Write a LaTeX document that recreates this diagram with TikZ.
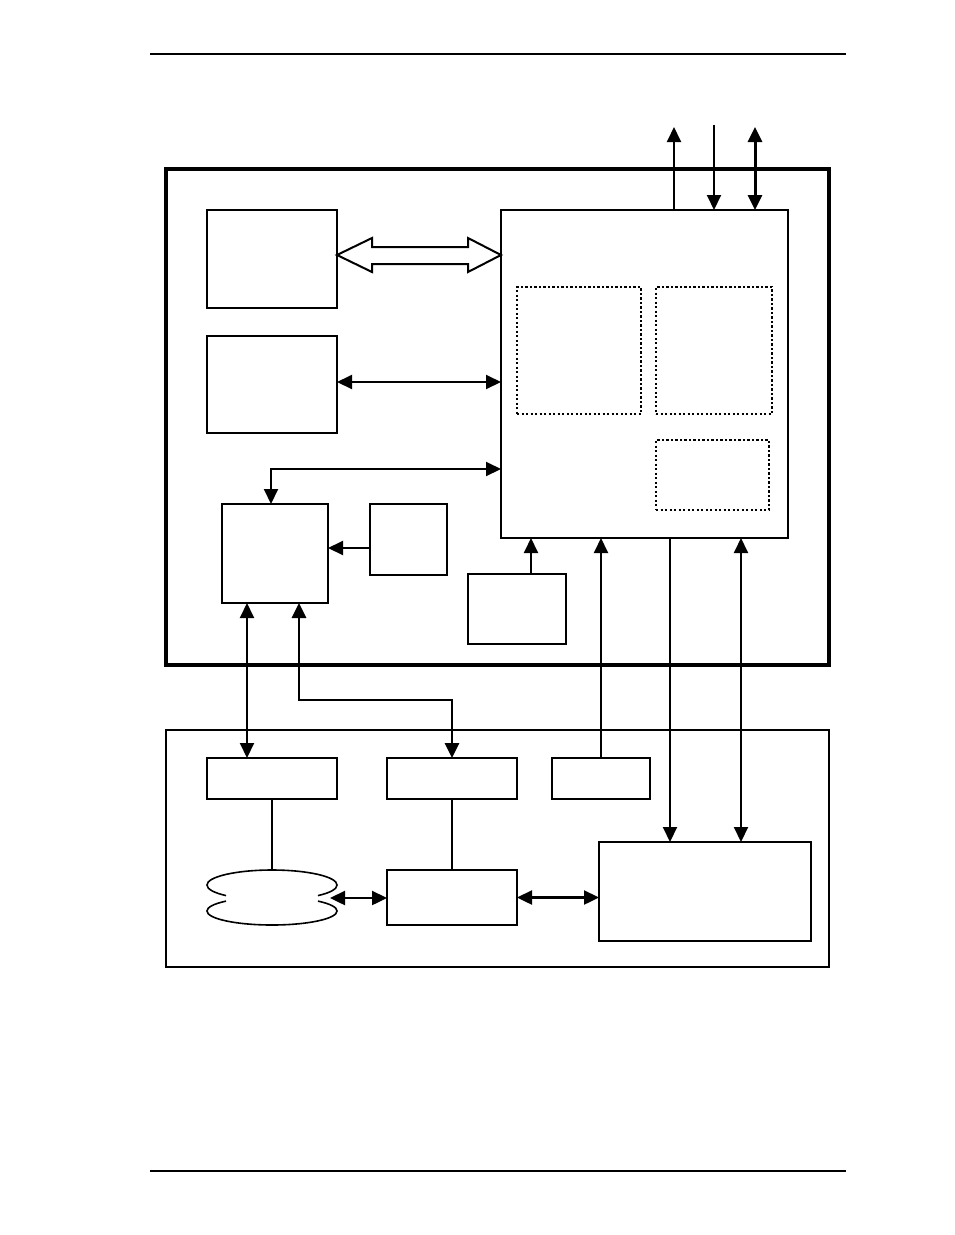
\documentclass[tikz,border=0pt]{standalone}
\usetikzlibrary{arrows.meta,calc}
\begin{document}
\begin{tikzpicture}[x=1pt,y=-1pt,
  box/.style={draw,line width=2pt,inner sep=0pt,outer sep=0pt},
  frame/.style={draw,line width=3.2pt,inner sep=0pt,outer sep=0pt},
  dotbox/.style={draw,line width=2.3pt,dash pattern=on 2.3pt off 2.2pt,inner sep=0pt,outer sep=0pt},
  conn/.style={line width=2pt},
  tip/.style={-{Triangle[length=15pt,width=14pt]}},
  tips/.style={{Triangle[length=15pt,width=14pt]}-{Triangle[length=15pt,width=14pt]}},
]
\useasboundingbox (0,0) rectangle (954,1235);

% page rules
\coordinate (hl) at (150,54);  \coordinate (hr) at (846,54);
\coordinate (fl) at (150,1171); \coordinate (fr) at (846,1171);
\draw[line width=1.6pt] (hl) -- (hr);
\draw[line width=1.6pt] (fl) -- (fr);

% frames
\node[frame,minimum width=663pt,minimum height=496pt] (top) at (497.5,417) {};
\node[box,minimum width=663pt,minimum height=237pt] (bot) at (497.5,848.5) {};

% upper boxes
\node[box,minimum width=130pt,minimum height=98pt] (A) at (272,259) {};
\node[box,minimum width=130pt,minimum height=97pt] (B) at (272,384.5) {};
\node[box,minimum width=287pt,minimum height=328pt] (C) at (644.5,374) {};
\node[dotbox,minimum width=124pt,minimum height=127pt] (D1) at (579,350.5) {};
\node[dotbox,minimum width=116pt,minimum height=127pt] (D2) at (714,350.5) {};
\node[dotbox,minimum width=113pt,minimum height=70pt] (D3) at (712.5,475) {};
\node[box,minimum width=106pt,minimum height=99pt] (E) at (275,553.5) {};
\node[box,minimum width=77pt,minimum height=71pt] (F) at (408.5,539.5) {};
\node[box,minimum width=98pt,minimum height=70pt] (G) at (517,609) {};

% lower boxes
\node[box,minimum width=130pt,minimum height=41pt] (H) at (272,778.5) {};
\node[box,minimum width=130pt,minimum height=41pt] (I) at (452,778.5) {};
\node[box,minimum width=98pt,minimum height=41pt] (J) at (601,778.5) {};
\node[box,minimum width=212pt,minimum height=99pt] (K) at (705,891.5) {};
\node[box,minimum width=130pt,minimum height=55pt] (L) at (452,897.5) {};

% disk-like shape
\coordinate (dtop) at (272,885);
\coordinate (dbot) at (272,911);
\coordinate (dtopedge) at (272,870);
\coordinate (dright) at (330,898);
\draw[line width=1.6pt] ([shift={(225:65pt and 15pt)}]dtop) arc[start angle=225,end angle=-45,x radius=65pt,y radius=15pt];
\draw[line width=1.6pt] ([shift={(135:65pt and 14pt)}]dbot) arc[start angle=135,end angle=405,x radius=65pt,y radius=14pt];

% hollow double arrow A <-> C
\coordinate (hL) at (A.east |- 0,255);
\coordinate (hR) at (C.west |- 0,255);
\draw[line width=2pt,line join=miter]
  (hL) -- ($(hL)+(35,-17)$) -- ($(hL)+(35,-8)$) -- ($(hR)+(-33,-8)$) -- ($(hR)+(-33,-17)$)
  -- (hR) -- ($(hR)+(-33,17)$) -- ($(hR)+(-33,9)$) -- ($(hL)+(35,9)$) -- ($(hL)+(35,17)$) -- cycle;

% connectors
\draw[conn,tips] (B.east |- 0,382) -- (C.west |- 0,382);
\draw[conn,tips] (C.west |- 0,469) -| (E.north -| 271,0);
\draw[conn,tip] (F.west |- 0,548) -- (E.east |- 0,548);
\draw[conn,tip] (G.north -| 531,0) -- (C.south -| 531,0);
\draw[conn,tips] (E.south -| 247,0) -- (H.north -| 247,0);
\draw[line width=2.8pt,tips] (E.south -| 299,0) |- (I.north |- 0,700) -- (I.north);
\draw[conn,tip] (J.north) -- (C.south -| J.north);
\draw[conn,tip] (C.south -| 670,0) -- (K.north -| 670,0);
\draw[conn,tips] (C.south -| 741,0) -- (K.north -| 741,0);

% top external arrows
\coordinate (t1) at (674,127);
\coordinate (t2) at (714,125);
\coordinate (t3) at (755,127);
\draw[conn,tip] (C.north -| t1) -- (t1);
\draw[conn,tip] (t2) -- (C.north -| t2);
\draw[line width=3pt,tips] (t3) -- (C.north -| t3);

% bottom connectors
\draw[conn] (H.south) -- (dtopedge);
\draw[conn] (I.south) -- (L.north);
\draw[line width=2.4pt,tips] (dright) -- (L.west |- dright);
\draw[line width=2.4pt,tips] (L.east) -- (K.west |- L.east);
\end{tikzpicture}
\end{document}
